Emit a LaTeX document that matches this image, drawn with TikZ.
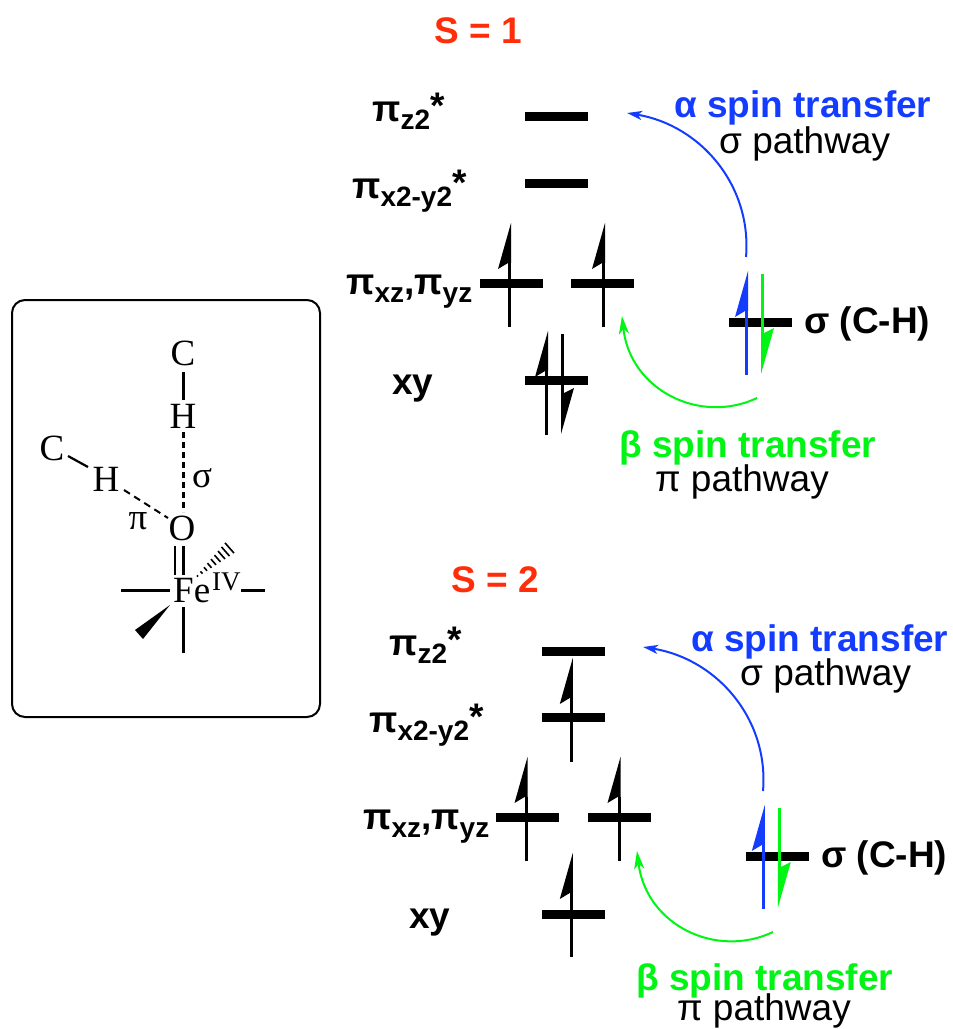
\documentclass[tikz,border=0pt]{standalone}
\usepackage{fontspec}
\setmainfont{Liberation Sans}
\newfontfamily\serifface{Liberation Serif}
\usetikzlibrary{arrows.meta}
\definecolor{spinblue}{RGB}{20,60,255}
\definecolor{spingreen}{RGB}{0,245,20}
\definecolor{spinred}{RGB}{255,45,10}
\tikzset{
 level/.style={fill=black,inner sep=0pt,minimum width=63pt,minimum height=9pt},
 lab/.style={anchor=base west,inner sep=0pt,font=\fontsize{37}{37}\selectfont\bfseries},
 headline/.style={anchor=base west,inner sep=0pt,font=\fontsize{37}{37}\selectfont\bfseries},
 plain/.style={anchor=base west,inner sep=0pt,font=\fontsize{37}{37}\selectfont},
 spinline/.style={line width=3pt},
 transfer/.style={line width=2pt,-{Stealth[length=15pt,width=9pt,inset=4pt]}},
 transferg/.style={line width=2pt,-{Stealth[length=18pt,width=10pt,inset=5pt]}},
 atom/.style={anchor=base,inner sep=0pt,font=\serifface\fontsize{37}{37}\selectfont},
 bond/.style={line width=3pt},
}
\newcommand{\sub}[1]{\raisebox{-8pt}{\fontsize{28}{28}\selectfont\bfseries #1}}
\newcommand{\starup}{\raisebox{3pt}{*}}
% up arrow: x, bottom y, colour
\newcommand{\spinup}[3][black]{%
 \draw[spinline,#1] (#2,#3) -- (#2,#3-64);
 \fill[#1] (#2+1.5,#3-104) -- (#2-11.5,#3-58) -- (#2-1.5,#3-64) -- (#2+1.5,#3-64) -- cycle;}
% down arrow: x, top y, colour
\newcommand{\spindown}[3][black]{%
 \draw[spinline,#1] (#2,#3) -- (#2,#3+59);
 \fill[#1] (#2-1.5,#3+100) -- (#2+11.5,#3+54) -- (#2+1.5,#3+59) -- (#2-1.5,#3+59) -- cycle;}
\begin{document}
\begin{tikzpicture}[x=1pt,y=-1pt]
\useasboundingbox (0,0) rectangle (953,1029);
% box
\node[draw,line width=2pt,rounded corners=13pt,minimum width=308pt,minimum height=417pt,inner sep=0pt] (box) at (166,508.5) {};
% molecule
\node[atom] (c1) at (183,365.5) {C};
\node[atom] (h1) at (183,428.5) {H};
\node[atom] (c2) at (52,460.5) {C};
\node[atom] (h2) at (106,491) {H};
\node[atom] (sg) at (202,487) {σ};
\node[atom] (pi) at (138,529) {π};
\node[atom] (ox) at (182,540) {O};
\node[atom,anchor=base west] (fe) at (173,602.5) {Fe};
\node[atom,anchor=base west,font=\serifface\fontsize{27}{27}\selectfont] (iv) at (212,590) {IV};
\draw[bond,shorten <=6pt,shorten >=4.5pt] (c1.south -| h1.north) -- (h1.north);
\coordinate (h1b) at (183,432); \coordinate (oxt) at (183,512);
\draw[line width=3pt,dash pattern=on 6pt off 4pt] (h1b) -- (oxt);
\coordinate (c2e) at (68,456); \coordinate (h2w) at (88,467);
\draw[line width=2.2pt] (c2e) -- (h2w);
\coordinate (h2e) at (124,490); \coordinate (oxw) at (168,518);
\draw[line width=2pt,dash pattern=on 7pt off 5pt] (h2e) -- (oxw);
\coordinate (d1a) at (175,546); \coordinate (d1b) at (175,575);
\coordinate (d2a) at (183.5,546); \coordinate (d2b) at (183.5,575);
\draw[bond,line width=2.5pt] (d1a) -- (d1b) (d2a) -- (d2b);
\coordinate (fel) at (170,590); \coordinate (l1) at (121,590);
\coordinate (fer) at (241,590); \coordinate (l2) at (265,590);
\coordinate (fed) at (183.5,607); \coordinate (l3) at (183.5,653);
\draw[bond] (fel) -- (l1) (fer) -- (l2) (fed) -- (l3);
\fill (170,605) -- (135,630) -- (143,639) -- cycle;
\foreach \t in {0,1,...,8}{
 \pgfmathsetmacro{\px}{197.5+\t*32/8}
 \pgfmathsetmacro{\py}{576-\t*28/8}
 \pgfmathsetmacro{\hw}{0.8+\t*0.75}
 \draw[line width=1.6pt] (\px-0.66*\hw,\py-0.75*\hw) -- (\px+0.66*\hw,\py+0.75*\hw);
}
% S = 1
\node[headline,text=spinred] (s1) at (434,43) {S = 1};
\node[lab] (lz1) at (372,121.5) {π\sub{z2}\starup};
\node[lab] (lx1) at (352,198) {π\sub{x2-y2}\starup};
\node[lab] (lp1) at (346,294) {π\sub{xz},π\sub{yz}};
\node[lab] (lxy1) at (392,394) {xy};
\node[level] (z1) at (556.5,116) {};
\node[level] (x1) at (556.5,183) {};
\node[level] (a1) at (511.5,283) {};
\node[level] (b1) at (602.5,283) {};
\node[level] (c1l) at (556.5,380) {};
\spinup{509.5}{327}
\spinup{603.5}{327}
\spinup{546.5}{435}
\spindown{562.5}{334}
\node[level] (sig1) at (760.5,322) {};
\spinup[spinblue]{746.5}{375}
\spindown[spingreen]{762.5}{274}
\node[lab] (ls1) at (804,333) {σ (C-H)};
\node[headline,text=spinblue] (at1) at (674,117) {α spin transfer};
\node[plain] (ap1) at (719,153.5) {σ pathway};
\node[headline,text=spingreen] (bt1) at (619,457) {β spin transfer};
\node[plain] (bp1) at (655,491.5) {π pathway};
\coordinate (ab1) at (746,257); \coordinate (ae1) at (627,113);
\draw[transfer,spinblue] (ab1) .. controls (752,185) and (700,125) .. (ae1);
\coordinate (bb1) at (757,398); \coordinate (be1) at (622,316);
\draw[transferg,spingreen] (bb1) .. controls (700,425) and (630,390) .. (be1);
% S = 2
\node[headline,text=spinred] (s2) at (451,592) {S = 2};
\node[lab] (lz2) at (389,655.5) {π\sub{z2}\starup};
\node[lab] (lx2) at (369,732) {π\sub{x2-y2}\starup};
\node[lab] (lp2) at (363,829) {π\sub{xz},π\sub{yz}};
\node[lab] (lxy2) at (409,928) {xy};
\node[level] (z2) at (573.5,651) {};
\node[level] (x2) at (573.5,717) {};
\node[level] (a2) at (527.5,817) {};
\node[level] (b2) at (619.5,817) {};
\node[level] (c2l) at (573.5,914) {};
\spinup{571.3}{762}
\spinup{526}{861}
\spinup{619}{861}
\spinup{571.3}{957}
\node[level] (sig2) at (777.5,856) {};
\spinup[spinblue]{763.3}{909}
\spindown[spingreen]{779.3}{808}
\node[lab] (ls2) at (821,867) {σ (C-H)};
\node[headline,text=spinblue] (at2) at (691,651) {α spin transfer};
\node[plain] (ap2) at (740,685.5) {σ pathway};
\node[headline,text=spingreen] (bt2) at (636,990) {β spin transfer};
\node[plain] (bp2) at (677,1020.5) {π pathway};
\coordinate (ab2) at (763,791); \coordinate (ae2) at (643,647);
\draw[transfer,spinblue] (ab2) .. controls (769,719) and (717,659) .. (ae2);
\coordinate (bb2) at (773,932); \coordinate (be2) at (637,851);
\draw[transferg,spingreen] (bb2) .. controls (716,959) and (646,925) .. (be2);
\end{tikzpicture}
\end{document}
